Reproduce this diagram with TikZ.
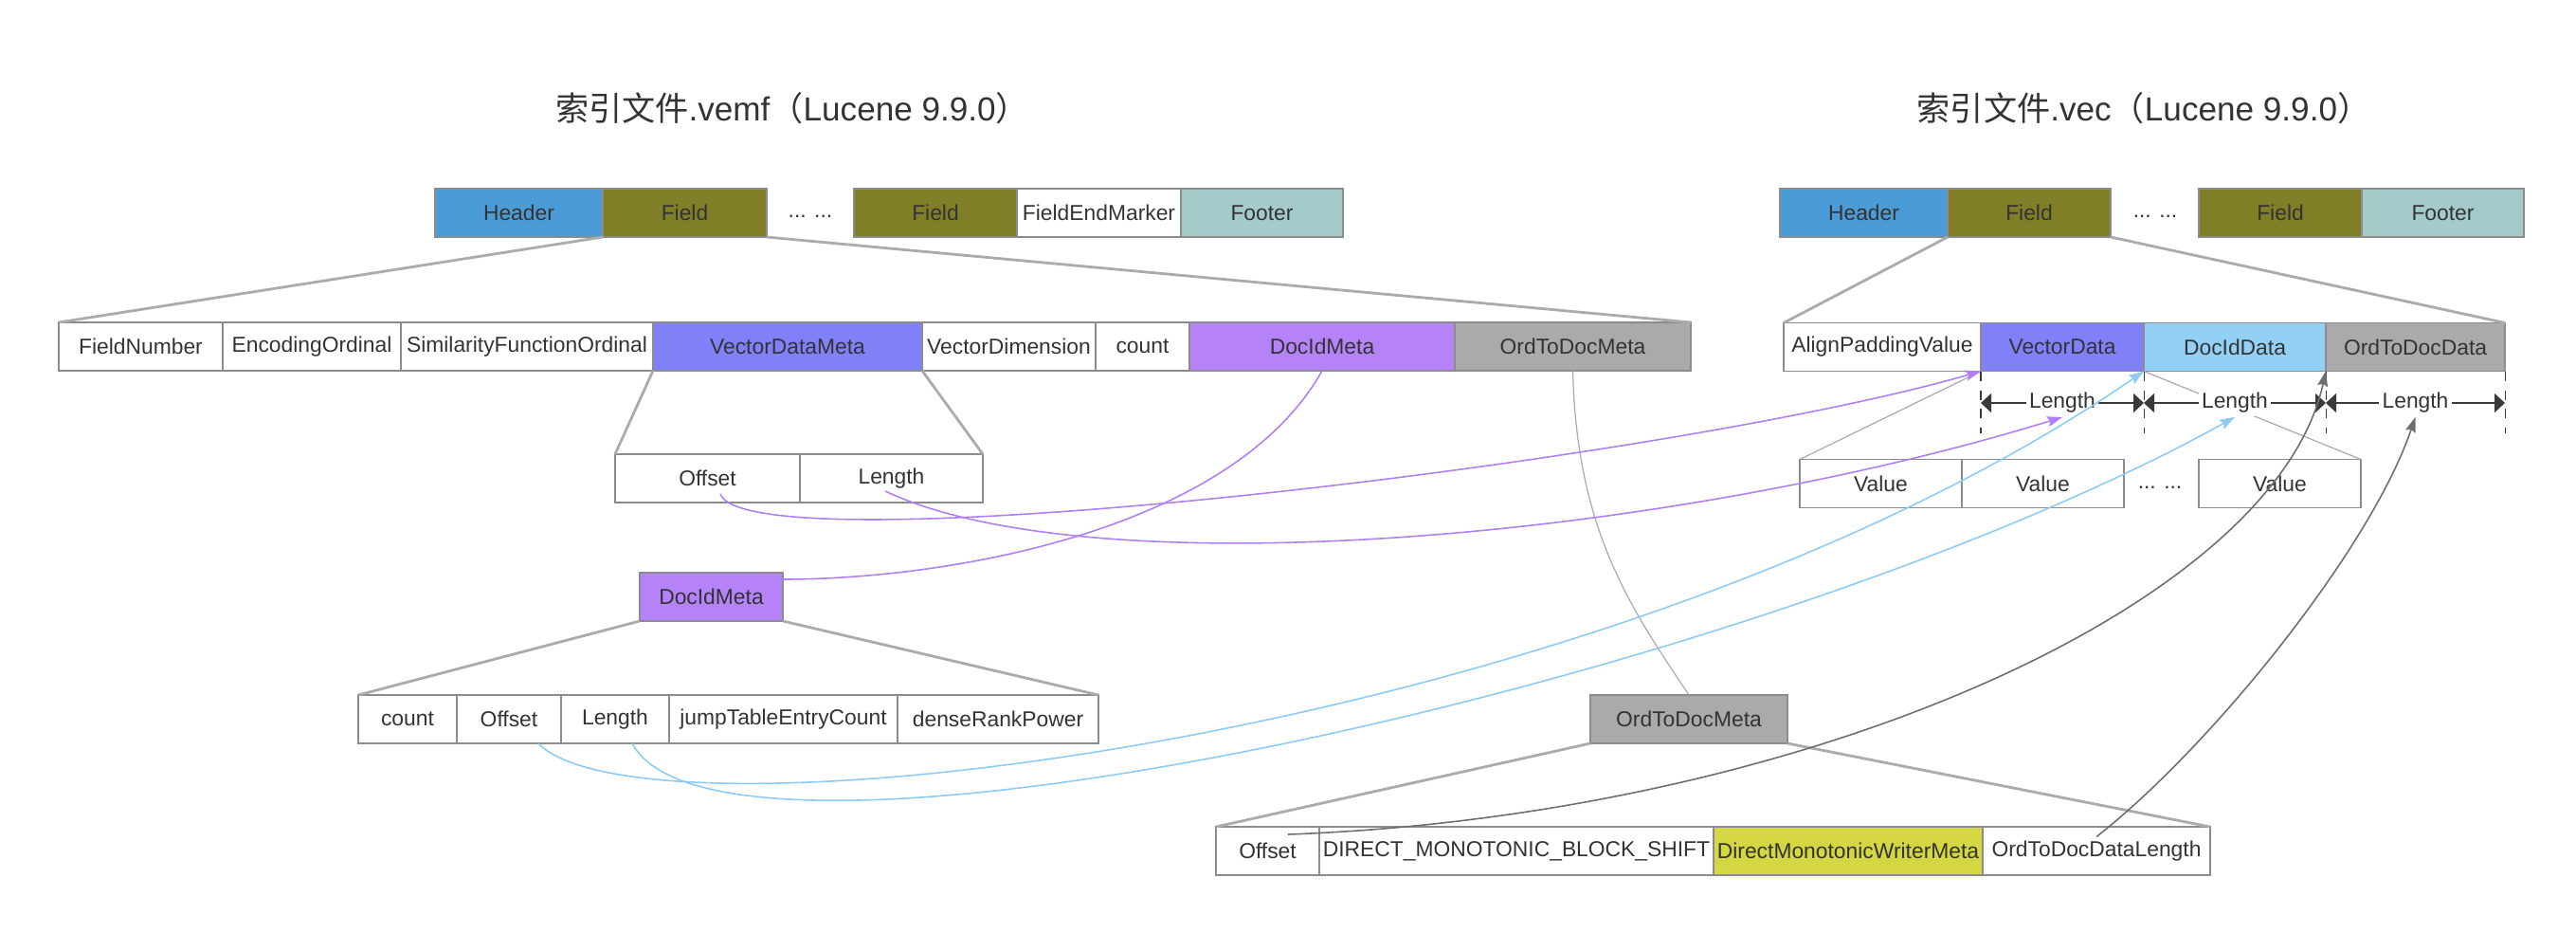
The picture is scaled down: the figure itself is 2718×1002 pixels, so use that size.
\documentclass[tikz,border=0pt]{standalone}
\usepackage{fontspec}
\setmainfont{Liberation Sans}
\newfontfamily\cjk{Noto Sans CJK SC}
\usepackage{xcolor}
\usetikzlibrary{positioning,arrows.meta}
\definecolor{hdrBlue}{HTML}{4A9BD6}
\definecolor{fieldOlive}{HTML}{807E26}
\definecolor{footerTeal}{HTML}{A4CACA}
\definecolor{vecPurple}{HTML}{8080F8}
\definecolor{docPurple}{HTML}{B582F8}
\definecolor{ordGray}{HTML}{AAAAAA}
\definecolor{docBlue}{HTML}{92D1F5}
\definecolor{writerYellow}{HTML}{D4D742}
\definecolor{cellLine}{HTML}{8C8C8C}
\definecolor{trapGray}{HTML}{ABABAB}
\definecolor{textDark}{HTML}{333333}
\definecolor{dimDark}{HTML}{3A3A3A}
\definecolor{linkPurple}{HTML}{B07FF5}
\definecolor{linkBlue}{HTML}{8CCBF5}
\definecolor{linkGray}{HTML}{6E6E6E}
\newcommand{\cellfont}{\fontsize{13}{15.5}\selectfont}
\tikzset{
  cell/.style={draw=cellLine,line width=0.8pt,text=textDark,font=\cellfont,minimum height=1.02cm,inner sep=0pt,outer sep=0pt},
  cw/.style={minimum width=#1*0.02cm},
  dots/.style={text=textDark,font=\cellfont,text height=0.6em,text depth=0pt},
  ttl/.style={text=textDark,font=\fontsize{20}{24}\selectfont},
  trap/.style={draw=trapGray,line width=1.6pt},
  trapthin/.style={draw=trapGray,line width=0.7pt},
  dimdash/.style={draw=dimDark,line width=0.6pt,dash pattern=on 0.2cm off 0.2cm},
  dimline/.style={draw=dimDark,line width=0.9pt,{Triangle[length=0.22cm,width=0.4cm]}-{Triangle[length=0.22cm,width=0.4cm]}},
  lenlbl/.style={fill=white,text=textDark,font=\cellfont,inner sep=2pt},
  link/.style={line width=0.9pt},
  arr/.style={-{Stealth[length=0.32cm,width=0.22cm,inset=0.05cm]}}
}
\begin{document}
\begin{tikzpicture}[x=0.02cm,y=-0.02cm]
\useasboundingbox (0,0) rectangle (2718,1002);

\node[ttl] (ttlL) at (836,114) {{\cjk 索引文件}.vemf{\cjk （}Lucene 9.9.0{\cjk ）}};
\node[ttl] (ttlR) at (2262,114) {{\cjk 索引文件}.vec{\cjk （}Lucene 9.9.0{\cjk ）}};

\node[cell,cw=177,fill=hdrBlue] (hdrL) at (547.5,224.5) {Header};
\node[cell,cw=173,fill=fieldOlive,right=0pt of hdrL] (fldL) {Field};
\node[dots] (dotsL) at (855,224.5) {... ...};
\node[cell,cw=172,fill=fieldOlive] (fldL2) at (987,224.5) {Field};
\node[cell,cw=173,right=0pt of fldL2] (endL) {FieldEndMarker};
\node[cell,cw=171,fill=footerTeal,right=0pt of endL] (ftrL) {Footer};

\node[cell,cw=173] (fNum) at (148.5,365.5) {FieldNumber};
\node[cell,cw=188,right=0pt of fNum] (encOrd) {EncodingOrdinal};
\node[cell,cw=266,right=0pt of encOrd] (simOrd) {SimilarityFunctionOrdinal};
\node[cell,cw=284,fill=vecPurple,right=0pt of simOrd] (vecMeta) {VectorDataMeta};
\node[cell,cw=183,right=0pt of vecMeta] (vecDim) {VectorDimension};
\node[cell,cw=99,right=0pt of vecDim] (cntL) {count};
\node[cell,cw=280,fill=docPurple,right=0pt of cntL] (docMeta) {DocIdMeta};
\node[cell,cw=249,fill=ordGray,right=0pt of docMeta] (ordMeta) {OrdToDocMeta};

\node[cell,cw=195] (vOff) at (746.5,504.5) {Offset};
\node[cell,cw=193,right=0pt of vOff] (vLen) {Length};

\node[cell,cw=151,fill=docPurple] (docBox) at (750.5,629.5) {DocIdMeta};

\node[cell,cw=104] (dCnt) at (430,758.5) {count};
\node[cell,cw=110,right=0pt of dCnt] (dOff) {Offset};
\node[cell,cw=114,right=0pt of dOff] (dLen) {Length};
\node[cell,cw=241,right=0pt of dLen] (dJump) {jumpTableEntryCount};
\node[cell,cw=212,right=0pt of dJump] (dRank) {denseRankPower};

\node[cell,cw=208,fill=ordGray] (ordBox) at (1782,758.5) {OrdToDocMeta};

\node[cell,cw=109] (oOff) at (1337.5,897.5) {Offset};
\node[cell,cw=416,right=0pt of oOff] (oShift) {DIRECT\_MONOTONIC\_BLOCK\_SHIFT};
\node[cell,cw=284,fill=writerYellow,right=0pt of oShift] (oWriter) {DirectMonotonicWriterMeta};
\node[cell,cw=240,right=0pt of oWriter] (oLen) {OrdToDocDataLength};

\node[cell,cw=177,fill=hdrBlue] (hdrR) at (1966.5,224.5) {Header};
\node[cell,cw=172,fill=fieldOlive,right=0pt of hdrR] (fldR) {Field};
\node[dots] (dotsR) at (2274,224.5) {... ...};
\node[cell,cw=172,fill=fieldOlive] (fldR2) at (2406,224.5) {Field};
\node[cell,cw=171,fill=footerTeal,right=0pt of fldR2] (ftrR) {Footer};

\node[cell,cw=208] (alignPad) at (1986,366) {AlignPaddingValue};
\node[cell,cw=172,fill=vecPurple,right=0pt of alignPad] (vecData) {VectorData};
\node[cell,cw=192,fill=docBlue,right=0pt of vecData] (docData) {DocIdData};
\node[cell,cw=189,fill=ordGray,right=0pt of docData] (ordData) {OrdToDocData};

\node[cell,cw=171] (val1) at (1984.5,510) {Value};
\node[cell,cw=171,right=0pt of val1] (val2) {Value};
\node[dots] (dotsV) at (2279,510) {... ...};
\node[cell,cw=171] (val3) at (2405.5,510) {Value};

\draw[trap] (fldL.south west) -- (fNum.north west);
\draw[trap] (fldL.south east) -- (ordMeta.north east);
\draw[trap] (vecMeta.south west) -- (vOff.north west);
\draw[trap] (vecMeta.south east) -- (vLen.north east);
\draw[trap] (docBox.south west) -- (dCnt.north west);
\draw[trap] (docBox.south east) -- (dRank.north east);
\draw[trap] (ordBox.south west) -- (oOff.north west);
\draw[trap] (ordBox.south east) -- (oLen.north east);
\draw[trap] (fldR.south west) -- (alignPad.north west);
\draw[trap] (fldR.south east) -- (ordData.north east);
\draw[trapthin] (vecData.south west) -- (val1.north west);
\draw[trapthin] (vecData.south east) -- (val3.north east);
\draw[trapthin] (ordMeta.south) .. controls +(4,170) and +(-60,-90) .. (ordBox.north);

\coordinate (m1) at (2090,425);
\coordinate (m2) at (2262,425);
\coordinate (m3) at (2454,425);
\coordinate (m4) at (2643,425);
\draw[dimdash] (vecData.south west) -- ++(0,65);
\draw[dimdash] (vecData.south east) -- ++(0,65);
\draw[dimdash] (docData.south east) -- ++(0,65);
\draw[dimdash] (ordData.south east) -- ++(0,65);
\draw[dimline] (m1) -- node[lenlbl] (lenA) {Length} (m2);
\draw[dimline] (m2) -- node[lenlbl] (lenB) {Length} (m3);
\draw[dimline] (m3) -- node[lenlbl] (lenC) {Length} (m4);

\draw[link,linkPurple] (docMeta.south) .. controls +(-95,169) and +(174,0) .. ([yshift=0.37cm]docBox.east);
\draw[link,arr,linkPurple] ([xshift=0.27cm,yshift=-0.33cm]vOff.center) .. controls +(30,79) and +(-340,98) .. (vecData.south west);
\draw[link,arr,linkPurple] ([xshift=-0.13cm,yshift=-0.27cm]vLen.center) .. controls +(216,102) and +(-426,131) .. (lenA.south);
\draw[link,arr,linkBlue] ([xshift=0.62cm]dOff.south) .. controls +(112,116) and +(-562,388) .. (vecData.south east);
\draw[link,arr,linkBlue] ([xshift=0.36cm]dLen.south) .. controls +(93,176) and +(-508,281) .. (lenB.south);
\draw[link,arr,linkGray] ([xshift=0.43cm,yshift=0.35cm]oOff.center) .. controls +(541,-20) and +(-54,248) .. (docData.south east);
\draw[link,arr,linkGray] ([yshift=0.3cm]oLen.center) .. controls +(118,-92) and +(-48,141) .. (lenC.south);
\end{tikzpicture}
\end{document}
